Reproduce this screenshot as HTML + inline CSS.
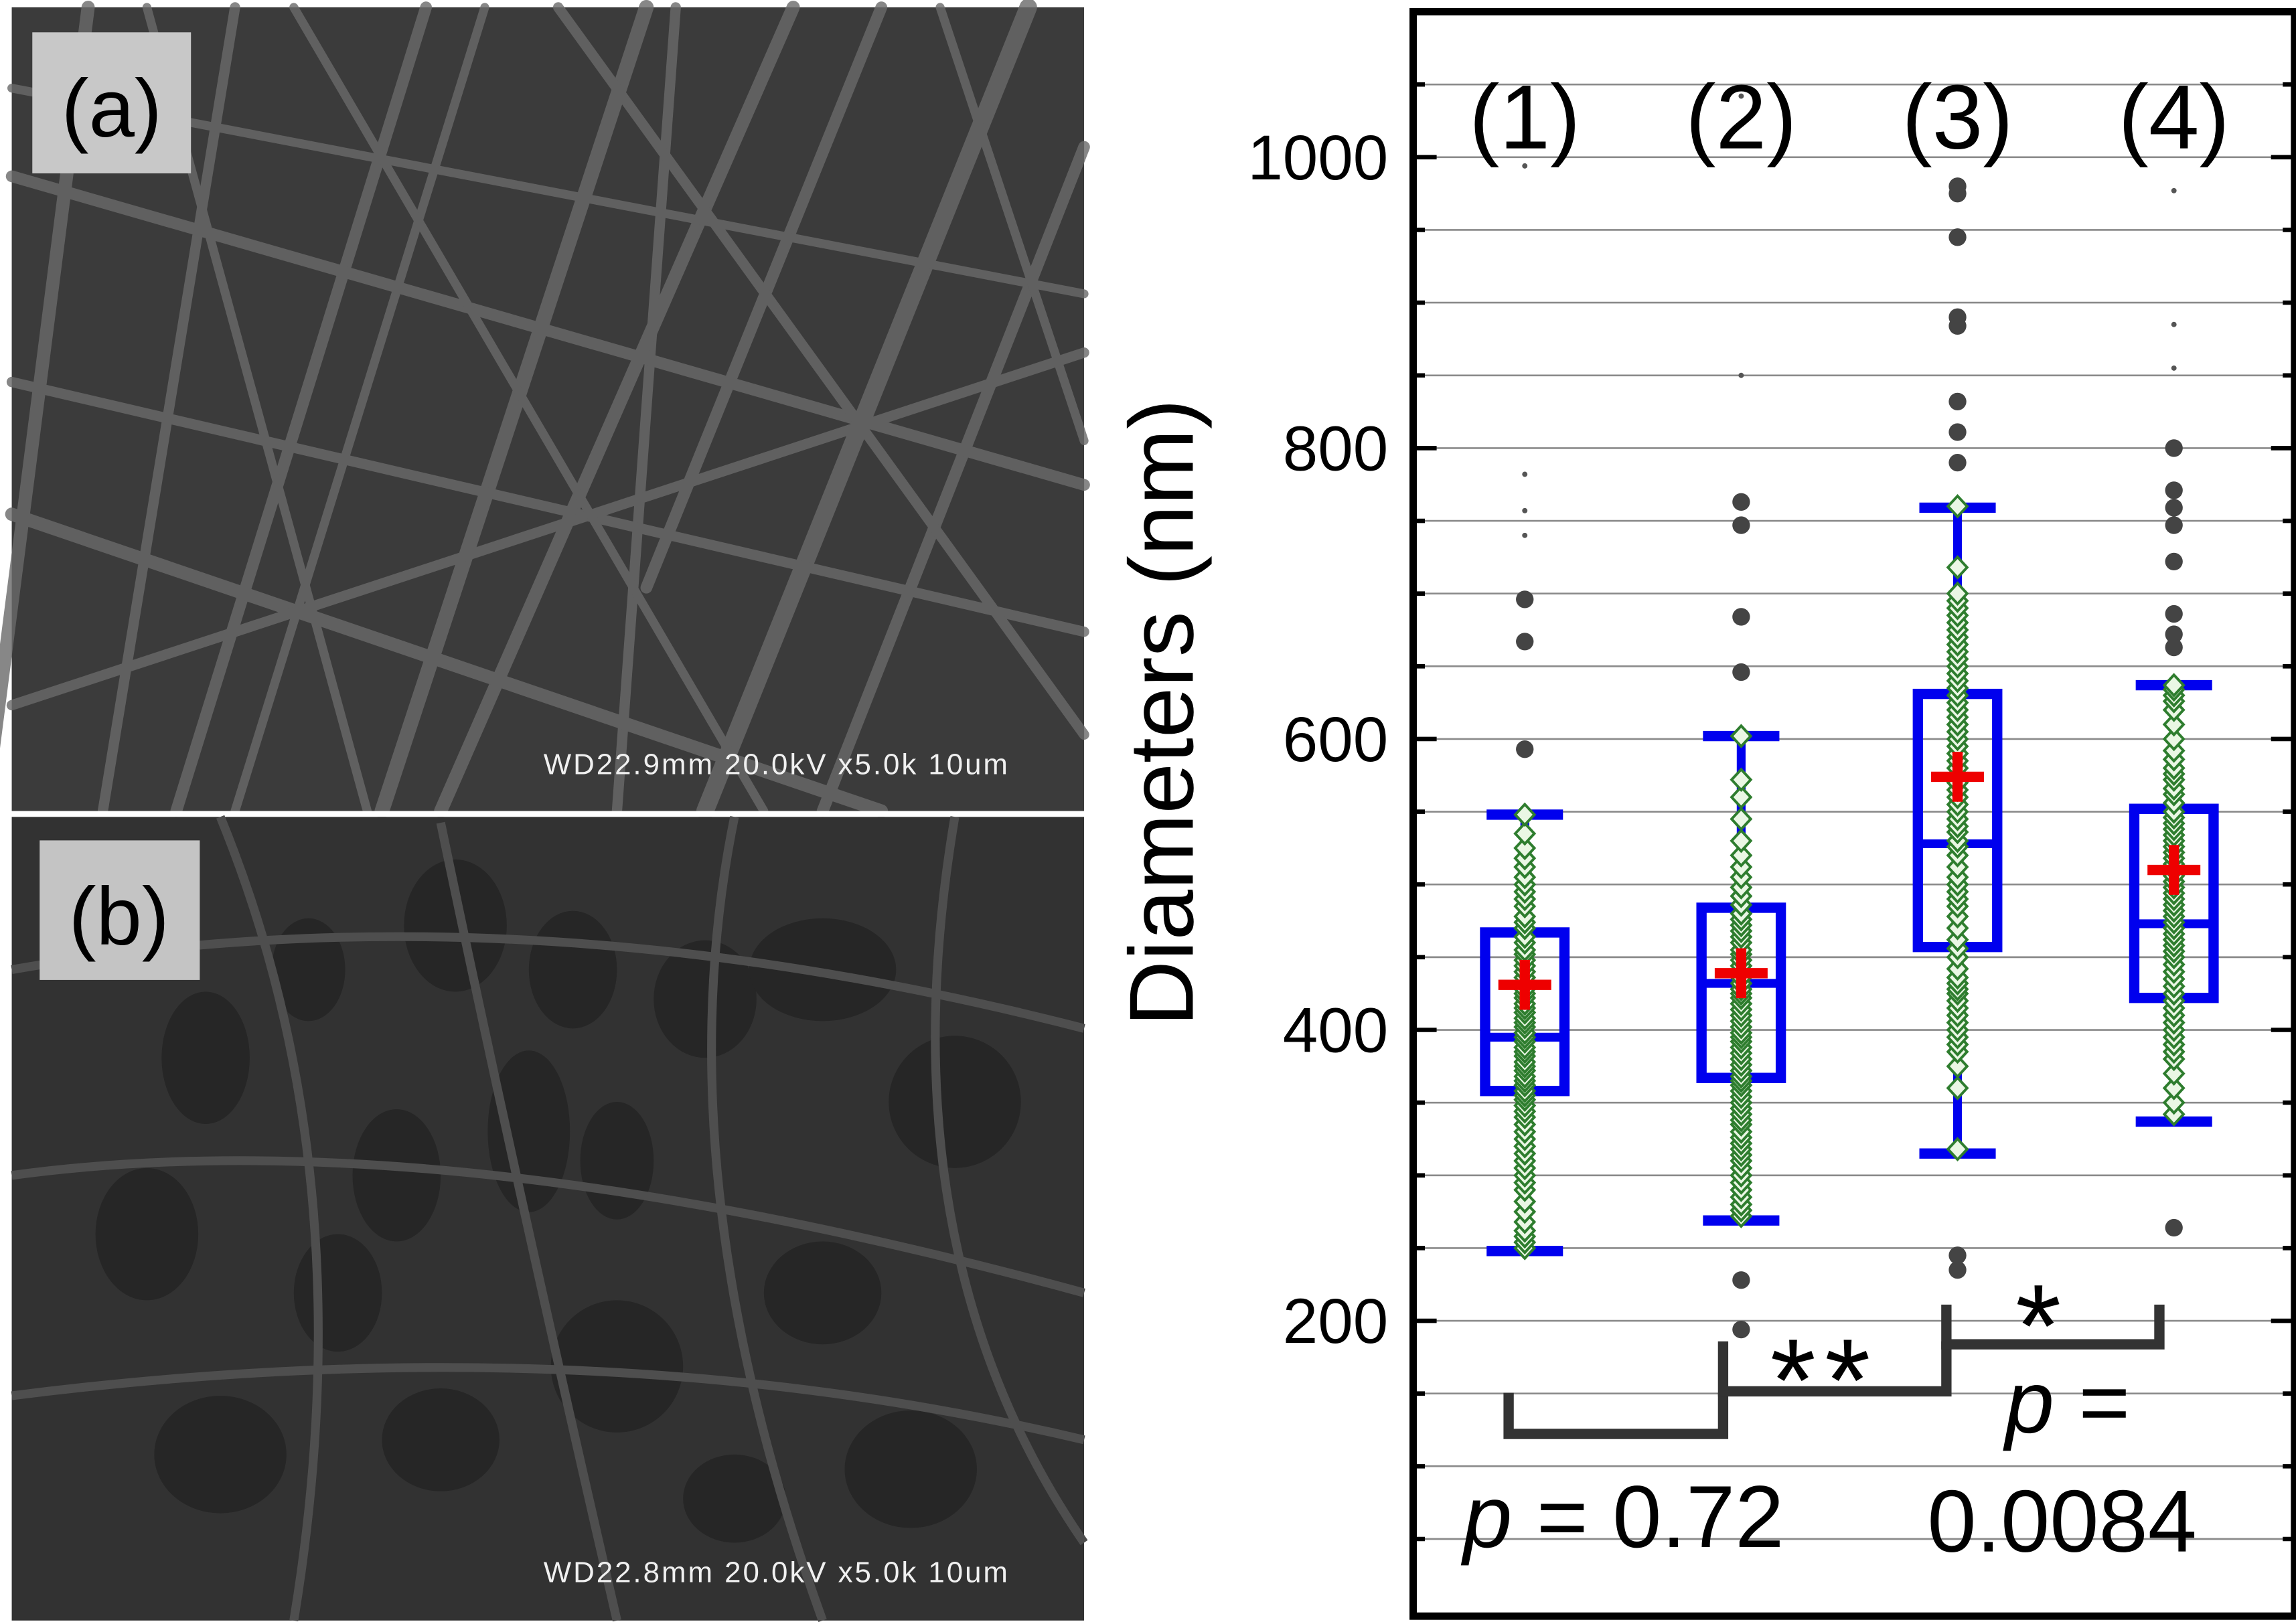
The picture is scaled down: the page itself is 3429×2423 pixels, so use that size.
<!DOCTYPE html>
<html><head><meta charset="utf-8"><style>
html,body{margin:0;padding:0;background:#fff;}
svg{display:block;}
text{font-family:"Liberation Sans",sans-serif;}
</style></head><body>
<svg id="fig" xmlns="http://www.w3.org/2000/svg" width="3429" height="2423" viewBox="0 0 1563 1104" preserveAspectRatio="none">
<rect x="0" y="0" width="1563" height="1104" fill="#fff"/>
<g>
<rect x="8" y="5" width="730" height="547" fill="#3b3b3b"/>
<g stroke="#6a6a6a" stroke-linecap="round" fill="none" opacity="0.8">
<line x1="60" y1="5" x2="-10" y2="552" stroke-width="9"/>
<line x1="160" y1="5" x2="70" y2="552" stroke-width="7"/>
<line x1="290" y1="5" x2="120" y2="552" stroke-width="8"/>
<line x1="330" y1="5" x2="160" y2="552" stroke-width="6"/>
<line x1="440" y1="5" x2="260" y2="552" stroke-width="10"/>
<line x1="460" y1="5" x2="420" y2="552" stroke-width="7"/>
<line x1="540" y1="5" x2="300" y2="552" stroke-width="9"/>
<line x1="600" y1="5" x2="440" y2="400" stroke-width="8"/>
<line x1="700" y1="5" x2="480" y2="552" stroke-width="12"/>
<line x1="738" y1="100" x2="560" y2="552" stroke-width="8"/>
<line x1="8" y1="120" x2="738" y2="330" stroke-width="8"/>
<line x1="8" y1="260" x2="738" y2="430" stroke-width="7"/>
<line x1="8" y1="350" x2="600" y2="552" stroke-width="9"/>
<line x1="8" y1="60" x2="738" y2="200" stroke-width="6"/>
<line x1="100" y1="5" x2="250" y2="552" stroke-width="6"/>
<line x1="8" y1="480" x2="738" y2="240" stroke-width="7"/>
<line x1="380" y1="5" x2="738" y2="500" stroke-width="7"/>
<line x1="200" y1="5" x2="520" y2="552" stroke-width="6"/>
<line x1="640" y1="5" x2="738" y2="300" stroke-width="6"/>
</g>
<rect x="22" y="22" width="108" height="96" fill="#c8c8c8"/>
<text x="76" y="93" font-size="56" text-anchor="middle" fill="#000">(a)</text>
<text x="370" y="527" font-size="20" fill="#f0f0f0" font-family="Liberation Mono, monospace" textLength="316">WD22.9mm 20.0kV x5.0k  10um</text>
</g>
<rect x="8" y="552" width="730" height="4" fill="#fff"/>
<g>
<rect x="8" y="556" width="730" height="547" fill="#323232"/>
<g fill="#262626">
<ellipse cx="140" cy="720" rx="30" ry="45"/><ellipse cx="210" cy="660" rx="25" ry="35"/>
<ellipse cx="310" cy="630" rx="35" ry="45"/><ellipse cx="390" cy="660" rx="30" ry="40"/>
<ellipse cx="360" cy="770" rx="28" ry="55"/><ellipse cx="270" cy="800" rx="30" ry="45"/>
<ellipse cx="100" cy="840" rx="35" ry="45"/><ellipse cx="230" cy="880" rx="30" ry="40"/>
<ellipse cx="420" cy="790" rx="25" ry="40"/><ellipse cx="480" cy="680" rx="35" ry="40"/>
<ellipse cx="560" cy="660" rx="50" ry="35"/><ellipse cx="650" cy="750" rx="45" ry="45"/>
<ellipse cx="560" cy="880" rx="40" ry="35"/><ellipse cx="420" cy="930" rx="45" ry="45"/>
<ellipse cx="300" cy="980" rx="40" ry="35"/><ellipse cx="150" cy="990" rx="45" ry="40"/>
<ellipse cx="620" cy="1000" rx="45" ry="40"/><ellipse cx="500" cy="1020" rx="35" ry="30"/>
</g>
<g stroke="#4e4e4e" stroke-width="6" fill="none">
<path d="M8 800 Q300 760 738 880"/><path d="M150 556 Q250 800 200 1103"/>
<path d="M300 560 Q350 800 420 1103"/><path d="M500 556 Q450 800 560 1103"/>
<path d="M8 950 Q400 900 738 980"/><path d="M8 660 Q350 600 738 700"/>
<path d="M650 556 Q600 850 738 1050"/>
</g>
<rect x="27" y="572" width="109" height="95" fill="#c4c4c4"/>
<text x="81" y="643" font-size="56" text-anchor="middle" fill="#000">(b)</text>
<text x="370" y="1077" font-size="20" fill="#f0f0f0" font-family="Liberation Mono, monospace" textLength="316">WD22.8mm 20.0kV x5.0k  10um</text>
</g>
<g id="chart"></g>
</svg>
<script>
const categories=["(1)","(2)","(3)","(4)"];
const whiskerLow=[248,269,315,337];
const whiskerHigh=[548,602,759,637];
const q1=[358,367,457,422];
const q3=[467,484,631,552];
const medians=[395,432,528,473];
const means=[431,439,574,510];
const outliers1=[696,667,593];
const outliers2=[763,747,684,646,228,194];
const outliers3=[980,975,945,890,884,832,811,790,245,235];
const outliers4=[800,771,759,747,722,686,672,663,264];
const smallDots1=[994,782,757,740];
const smallDots2=[850,1042];
const smallDots4=[977,885,855];
const points1=[250,254,258,262,268,275,282,290,295,300,305,310,315,320,325,330,335,340,344,348,352,355,358,362,365,368,372,375,378,382,385,388,392,395,398,402,405,408,412,415,418,422,425,428,432,436,440,444,448,452,455,460,464,470,474,478,485,490,495,500,505,512,518,525,535,548];
const points2=[272,276,280,285,290,295,300,305,310,314,318,322,326,330,335,338,342,346,350,354,358,362,365,368,372,376,380,384,388,392,395,398,402,406,410,414,418,422,425,428,432,436,440,444,448,452,455,460,464,468,472,476,480,486,492,498,505,512,520,530,545,560,572,602];
const points3=[318,360,375,385,390,395,400,405,410,415,420,425,428,432,436,442,450,456,462,470,478,485,490,495,500,505,512,520,526,530,536,540,545,550,555,560,565,570,575,580,585,590,595,600,605,610,615,620,625,630,635,640,645,650,655,660,665,670,675,680,685,690,695,700,718,760];
const points4=[342,350,360,370,380,385,390,395,400,405,410,415,420,425,430,435,440,445,450,454,458,462,466,470,474,478,482,486,490,494,498,502,506,510,514,518,522,526,530,534,538,542,546,550,556,562,566,572,576,580,586,592,600,610,620,626,630,634,637];
const pointSets=[points1,points2,points3,points4];
const outlierSets=[outliers1,outliers2,outliers3,outliers4];
const smallSets=[smallDots1,smallDots2,[],smallDots4];
const yTicks=[200,400,600,800,1000];
const gridVals=[50,100,150,200,250,300,350,400,450,500,550,600,650,700,750,800,850,900,950,1000,1050];

const NS="http://www.w3.org/2000/svg";
const g=document.getElementById('chart');
const X0=962,X1=1562,Y0=8,Y1=1100;
function yS(v){return 701-(v-400)*0.99;}
function xS(i){return 1038+i*147.3;}
function mk(tag,attrs,parent){const e=document.createElementNS(NS,tag);for(const k in attrs)e.setAttribute(k,attrs[k]);(parent||g).appendChild(e);return e;}

gridVals.forEach(v=>{
  const y=yS(v);
  const l=mk('line',{x1:X0,x2:X1,y1:y,y2:y,stroke:'#8a8a8a','stroke-width':1.2});
  
  
  const major=v%200===0;const len=major?16:8;
  const t1=mk('line',{x1:X0,x2:X0+len,y1:y,y2:y,stroke:'#000','stroke-width':3});
  
  
  const t2=mk('line',{x1:X1-len,x2:X1,y1:y,y2:y,stroke:'#000','stroke-width':3});
  
  
});
yTicks.forEach(v=>{
  const t=mk('text',{x:945,y:yS(v)+15,'font-size':43,'text-anchor':'end',fill:'#000'});
  t.textContent=String(v);
  
  
});
const yt=mk('text',{x:0,y:0,'font-size':62,'text-anchor':'middle',fill:'#000',transform:'translate(812,485) rotate(-90)'});
yt.textContent='Diameters (nm)';



categories.forEach((c,i)=>{
  const t=mk('text',{x:xS(i),y:101,'font-size':62,'text-anchor':'middle',fill:'#000'});
  t.textContent=c;
  
  
});

categories.forEach((c,i)=>{
  const x=xS(i),hw=27,cw=26;
  const grp=mk('g',{});
  
  
  outlierSets[i].forEach(v=>{const d=mk('circle',{cx:x,cy:yS(v),r:6,fill:'#444'},grp);
    
    });
  smallSets[i].forEach(v=>{const d=mk('circle',{cx:x,cy:yS(v),r:1.8,fill:'#555'},grp);
    
    });
  const w=mk('line',{x1:x,x2:x,y1:yS(whiskerLow[i]),y2:yS(whiskerHigh[i]),stroke:'#0000ee','stroke-width':6},grp);
  
  
  [whiskerLow[i],whiskerHigh[i]].forEach(v=>{const cp=mk('line',{x1:x-cw,x2:x+cw,y1:yS(v),y2:yS(v),stroke:'#0000ee','stroke-width':7},grp);
    
    });
  const b=mk('rect',{x:x-hw,y:yS(q3[i]),width:hw*2,height:yS(q1[i])-yS(q3[i]),fill:'none',stroke:'#0000ee','stroke-width':7},grp);
  
  
  const m=mk('line',{x1:x-hw,x2:x+hw,y1:yS(medians[i]),y2:yS(medians[i]),stroke:'#0000ee','stroke-width':6},grp);
  
  
  pointSets[i].forEach(v=>{const y=yS(v);
    const p=mk('polygon',{points:`${x},${y-7} ${x+6.5},${y} ${x},${y+7} ${x-6.5},${y}`,fill:'#eaf7e4',stroke:'#2e7d2e','stroke-width':1.8},grp);
    
    });
  const my=yS(means[i]);
  const mn=mk('path',{d:`M${x-18} ${my}H${x+18}M${x} ${my-17}V${my+17}`,stroke:'#ee0000','stroke-width':7,fill:'none'},grp);
  
  
});

const br=[[1027,1173,948,976],[1173,1325,913,947],[1325,1470,888,915]];
br.forEach(b=>{const p=mk('path',{d:`M${b[0]} ${b[2]}V${b[3]}H${b[1]}V${b[2]}`,stroke:'#333',fill:'none','stroke-width':7});
  
  });
function txt(x,y,s,html,name){const t=mk('text',{x:x,y:y,'font-size':s,fill:'#000'});t.innerHTML=html;
  
  return t;}
txt(1205,967,80,'**','sig-stars-2-3').setAttribute('letter-spacing','6');
txt(1372,930,80,'*','sig-star-3-4');
txt(996,1053,60,'<tspan font-style="italic">p</tspan> = 0.72','p-value-1-2');
txt(1365,975,60,'<tspan font-style="italic">p</tspan> =','p-value-label');
txt(1312,1056,60,'0.0084','p-value-3-4');

const fr=mk('rect',{x:X0,y:Y0,width:X1-X0,height:Y1-Y0,fill:'none',stroke:'#000','stroke-width':5});


</script>
</body></html>
